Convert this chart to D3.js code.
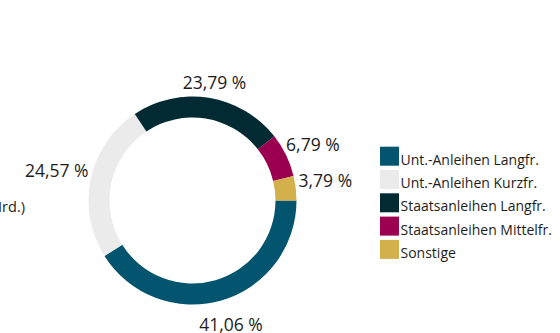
<!DOCTYPE html>
<html>
<head>
<meta charset="utf-8">
<script src="https://cdn.jsdelivr.net/npm/d3@7"></script>
<style>
  html, body { margin: 0; padding: 0; background: #ffffff; }
  svg { display: block; }
  text { font-family: "Open Sans", "Noto Sans", sans-serif; fill: #1d1d1b; }
</style>
</head>
<body>
<svg id="chart" width="560" height="333"></svg>
<script>
// Portfolio split by asset class (percent of total)
const categories = [
  "Unt.-Anleihen Langfr.",
  "Unt.-Anleihen Kurzfr.",
  "Staatsanleihen Langfr.",
  "Staatsanleihen Mittelfr.",
  "Sonstige"
];
const shares = [41.06, 24.57, 23.79, 6.79, 3.79];
const colors = ["#02546f", "#ebebeb", "#022a33", "#9a004f", "#d3b04b"];
const unitNote = "(in Mrd.)";

const svg = d3.select("#chart");

// donut geometry
const cx = 192.5, cy = 200.5;
const outerR = 104, innerR = 83;

const fmt = v => d3.format(".2f")(v).replace(".", ",") + " %";

const pie = d3.pie()
  .sort(null)
  .value(d => d)
  .startAngle(Math.PI / 2)
  .endAngle(Math.PI / 2 + 2 * Math.PI);

const arc = d3.arc().innerRadius(innerR).outerRadius(outerR);

const arcs = pie(shares);

const g = svg.append("g").attr("transform", `translate(${cx},${cy})`);

g.selectAll("path.slice")
  .data(arcs)
  .join("path")
  .attr("class", "slice")
  .attr("d", arc)
  .attr("fill", (d, i) => colors[i]);

// value labels placed outside the ring along each slice's mid-angle
const labelFont = 17.5;
const rx = 107, ry = 113;
const labels = svg.append("g");
arcs.forEach((d, i) => {
  const a = (d.startAngle + d.endAngle) / 2;
  const ux = Math.sin(a), uy = -Math.cos(a);
  const px = cx + rx * ux, py = cy + ry * uy;
  const t = labels.append("text")
    .attr("font-size", labelFont)
    .attr("text-anchor", "start")
    .text(fmt(shares[i]));
  const w = t.node().getComputedTextLength();
  t.attr("x", px - w * (1 - ux) / 2)
   .attr("y", uy > 0 ? py + 1.28 * labelFont : py);
});

// unit note on the left (partly outside the drawing area)
svg.append("text")
  .attr("x", 25)
  .attr("y", 211.5)
  .attr("text-anchor", "end")
  .attr("font-size", 14.5)
  .text(unitNote);

// legend
const legend = svg.append("g").attr("transform", "translate(380,146.7)");
const rowStep = 23.3, sw = 19;
const rows = legend.selectAll("g.row")
  .data(categories)
  .join("g")
  .attr("class", "row")
  .attr("transform", (d, i) => `translate(0,${i * rowStep})`);
rows.append("rect")
  .attr("width", sw)
  .attr("height", sw)
  .attr("fill", (d, i) => colors[i]);
rows.append("text")
  .attr("x", sw + 1.5)
  .attr("y", sw - 1)
  .attr("font-size", 14)
  .text(d => d);
</script>
</body>
</html>
